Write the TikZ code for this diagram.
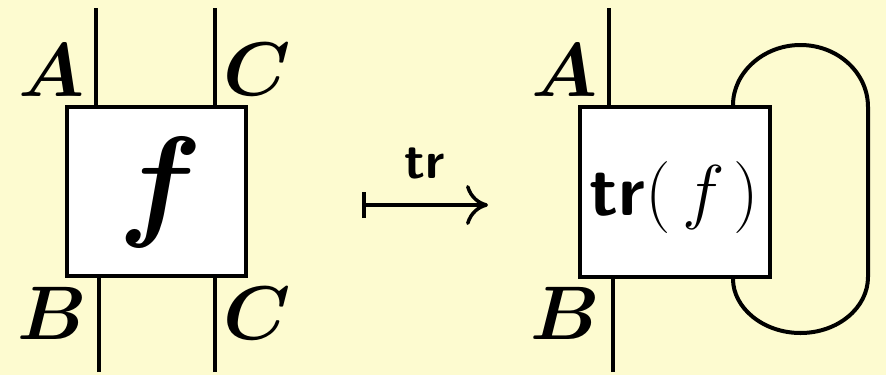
\RequirePackage{fix-cm}
\documentclass[tikz,border=0pt]{standalone}
\usepackage{bm}
\usetikzlibrary{arrows.meta}
\definecolor{bgc}{RGB}{253,251,208}
\tikzset{
  wire/.style={line width=4pt},
  morph/.style={draw, line width=4pt, fill=white, inner sep=0pt},
  lab/.style={inner sep=0pt, font=\fontsize{76}{80}\selectfont},
  mapsarrow/.style={line width=3.5pt, {Bar[width=26pt,line width=3.5pt]}-{Computer Modern Rightarrow[length=22pt,width=40pt,line width=3.5pt]}}
}
\begin{document}
\begin{tikzpicture}[x=1pt,y=-1pt]
\fill[bgc] (0,0) rectangle (886,375);
\useasboundingbox (0,0) rectangle (886,375);

% left diagram
\node[morph, minimum width=179pt, minimum height=169pt] (boxL) at (156.5,191.5) {};
\node[inner sep=0pt, font=\fontsize{124}{130}\selectfont] (fL) at (161,192) {$\bm{f}$};
\coordinate (tlL) at (96,8);
\coordinate (trL) at (215,8);
\coordinate (blL) at (99,372);
\coordinate (brL) at (215,372);
\draw[wire] (tlL) -- (tlL |- boxL.north);
\draw[wire] (trL) -- (trL |- boxL.north);
\draw[wire] (blL) -- (blL |- boxL.south);
\draw[wire] (brL) -- (brL |- boxL.south);
\node[lab] (A1) at (52,70) {$\bm{A}$};
\node[lab] (C1) at (257,69) {$\bm{C}$};
\node[lab] (B1) at (52,313) {$\bm{B}$};
\node[lab] (C2) at (257,313) {$\bm{C}$};

% arrow
\coordinate (arrS) at (362,205);
\coordinate (arrE) at (488,205);
\draw[mapsarrow] (arrS) -- (arrE);
\node[inner sep=0pt, font=\fontsize{52}{56}\selectfont\sffamily\bfseries] (trlab) at (425,163) {tr};

% right diagram
\node[morph, minimum width=190pt, minimum height=170pt] (boxR) at (675,192) {};
\node[inner sep=0pt, font=\fontsize{72}{78}\selectfont] (trf) at (674,197) {\textsf{\bfseries tr}$(\,f\mskip2mu)$};
\coordinate (tlR) at (609,8);
\coordinate (blR) at (613,372);
\draw[wire] (tlR) -- (tlR |- boxR.north);
\draw[wire] (blR) -- (blR |- boxR.south);
\node[lab] (A2) at (565,70) {$\bm{A}$};
\node[lab] (B2) at (565,313) {$\bm{B}$};
\coordinate (lpx) at (733,0);
\coordinate (ls) at (lpx |- boxR.north);
\coordinate (le) at (lpx |- boxR.south);
\draw[wire] (ls) .. controls (733,72.8) and (763.2,45) .. (800.5,45)
  .. controls (837.8,45) and (868,72.8) .. (868,107)
  -- (868,277)
  .. controls (868,307.9) and (837.8,333) .. (800.5,333)
  .. controls (763.2,333) and (733,307.9) .. (le);
\end{tikzpicture}
\end{document}
